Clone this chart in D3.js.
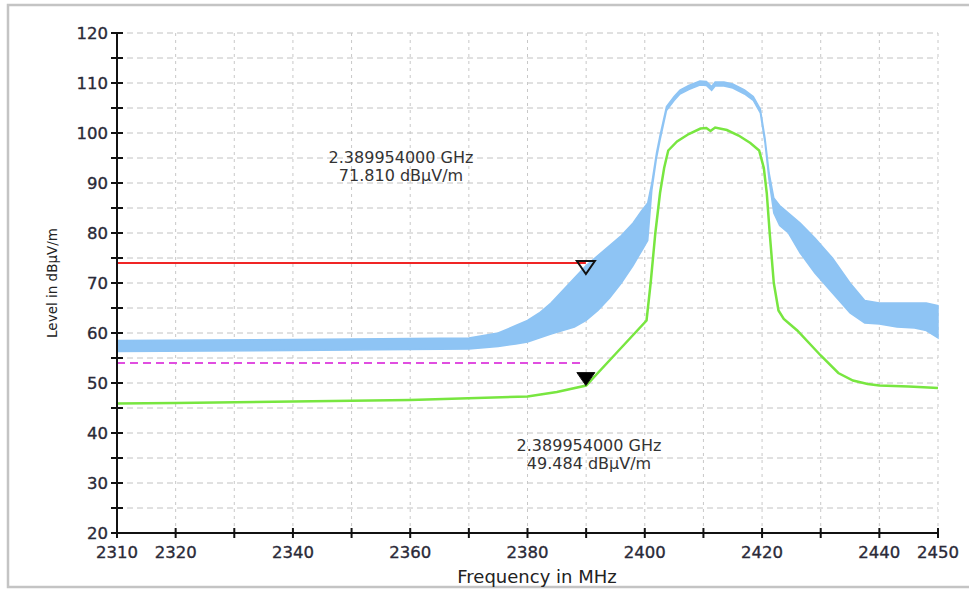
<!DOCTYPE html>
<html lang="en">
<head>
    <meta charset="UTF-8">
    <title>Radiated Emission - Band Edge</title>
    <script src="https://d3js.org/d3.v7.min.js"></script>
    <style>
        body {
            margin: 0;
            background: #fff;
            font-family: "DejaVu Sans", Verdana, sans-serif;
        }
        .tick-label {
            font-size: 16.5px;
            fill: #2a2a38;
            stroke: #2a2a38;
            stroke-width: 0.35px;
        }
        .note {
            font-size: 16px;
            fill: #333;
        }
    </style>
</head>
<body>

<svg width="969" height="590"></svg>

<script>
    // Peak trace (blue) - upper and lower edge of the noisy band
    const peakFreq = [2310, 2340, 2370, 2375, 2378, 2380, 2382, 2384, 2386, 2388, 2390, 2392, 2394, 2396,
        2398, 2399.5, 2400.5, 2401.2, 2402, 2402.6, 2403.7, 2405, 2406, 2407.5, 2409.4, 2410.5, 2411.4,
        2412, 2413.5, 2415, 2417, 2418.5, 2419.7, 2420.5, 2421.2, 2422, 2423, 2424.5, 2426.5, 2429,
        2432, 2435, 2437.5, 2440, 2443, 2446, 2448, 2450];
    const peakHigh = [58.5, 58.7, 59, 60, 61.5, 62.5, 64, 66, 68.5, 71, 73.5, 75.5, 77.5, 79.5,
        82, 84.5, 86, 90, 96, 99.5, 105.3, 107.3, 108.6, 109.5, 110.4, 110.3, 109.3,
        110.2, 110.2, 109.8, 108.6, 107.3, 104.8, 99, 92, 87, 85.5, 84, 82, 79,
        75, 70, 66.5, 66, 66, 66, 66, 65.5];
    const peakLow = [56.3, 56.5, 56.8, 57.3, 57.8, 58.2, 59, 59.8, 60.5, 61.2, 62.5, 64.5, 67, 70,
        73.5, 76.5, 78.5, 88.5, 95, 98.6, 104.5, 106.5, 107.8, 108.7, 109.6, 109.5, 108.5,
        109.4, 109.4, 109, 107.8, 106.5, 104, 98, 90.5, 84, 81.5, 80, 76, 72,
        68, 64, 62, 61.8, 61.2, 61, 60.5, 59];

    // Average trace (green)
    const avgFreq = [2310, 2320, 2340, 2360, 2380, 2385, 2390, 2395, 2400.3, 2401, 2401.8, 2402.6,
        2403.3, 2404, 2405.5, 2407.5, 2409.5, 2410.5, 2411.2, 2412, 2414, 2416, 2418, 2419.5,
        2420.3, 2420.8, 2421.3, 2422, 2422.8, 2423.7, 2426, 2430, 2433, 2435.5, 2438, 2440, 2445, 2450];
    const avgLevel = [45.9, 46.0, 46.3, 46.6, 47.3, 48.2, 49.5, 55.8, 62.5, 70, 80, 88,
        93, 96.5, 98.3, 99.8, 100.9, 101, 100.4, 101.1, 100.6, 99.5, 98, 96.5,
        93, 88, 80, 70, 64.5, 62.8, 60.5, 55.5, 52, 50.5, 49.8, 49.5, 49.3, 49.0];

    // Limit lines (peak and average) and markers
    const peakLimit = 74;
    const avgLimit = 54;
    const markerFreq = 2389.954;
    const markers = [
        { level: 71.81, filled: false, lines: ["2.389954000 GHz", "71.810 dBµV/m"] },
        { level: 49.484, filled: true, lines: ["2.389954000 GHz", "49.484 dBµV/m"] }
    ];

    // Axis ticks
    const xTickValues = d3.range(2310, 2451, 10);
    const xTickLabels = [2310, 2320, 2340, 2360, 2380, 2400, 2420, 2440, 2450];
    const yMajorTicks = d3.range(20, 121, 10);
    const yMinorTicks = d3.range(25, 120, 10);

    const svg = d3.select("svg");
    const margin = { top: 33, right: 31, bottom: 57, left: 117 };
    const width = 969 - margin.left - margin.right,
        height = 590 - margin.top - margin.bottom;

    // Light grey frame round the whole picture
    svg.append("rect")
        .attr("x", 8).attr("y", 5)
        .attr("width", 980).attr("height", 582)
        .attr("fill", "none")
        .attr("stroke", "#c4c4c4")
        .attr("stroke-width", 2.5);

    const g = svg.append("g").attr("transform", `translate(${margin.left},${margin.top})`);

    const x = d3.scaleLinear().domain([2310, 2450]).range([0, width]);
    const y = d3.scaleLinear().domain([20, 120]).range([height, 0]);

    // Dashed grid
    g.append("g").selectAll("line")
        .data(d3.range(25, 121, 5))
        .join("line")
        .attr("x1", 0).attr("x2", width)
        .attr("y1", d => y(d)).attr("y2", d => y(d))
        .attr("stroke", "#c2c2c2")
        .attr("stroke-dasharray", "6,4");

    g.append("g").selectAll("line")
        .data(xTickValues.slice(1))
        .join("line")
        .attr("x1", d => x(d)).attr("x2", d => x(d))
        .attr("y1", 0).attr("y2", height)
        .attr("stroke", "#c8c8c8")
        .attr("stroke-dasharray", "3,4");

    // Limit lines, drawn up to the marker frequency
    g.append("line")
        .attr("x1", 0).attr("x2", x(markerFreq))
        .attr("y1", y(peakLimit)).attr("y2", y(peakLimit))
        .attr("stroke", "#f02525")
        .attr("stroke-width", 2);

    g.append("line")
        .attr("x1", 0).attr("x2", x(markerFreq) - 3)
        .attr("y1", y(avgLimit)).attr("y2", y(avgLimit))
        .attr("stroke", "#e04ee0")
        .attr("stroke-width", 2)
        .attr("stroke-dasharray", "8,5");

    // Peak trace as a filled noise band
    const peakData = peakFreq.map((f, i) => ({ f, hi: peakHigh[i], lo: peakLow[i] }));
    g.append("path")
        .datum(peakData)
        .attr("fill", "#8ec4f4")
        .attr("stroke", "#8ec4f4")
        .attr("stroke-width", 1.5)
        .attr("d", d3.area()
            .x(d => x(d.f))
            .y0(d => y(d.lo))
            .y1(d => y(d.hi)));

    // Average trace
    g.append("path")
        .datum(avgFreq.map((f, i) => [f, avgLevel[i]]))
        .attr("fill", "none")
        .attr("stroke", "#78e640")
        .attr("stroke-width", 2.5)
        .attr("d", d3.line().x(d => x(d[0])).y(d => y(d[1])));

    // Marker triangles (tip on the measured point)
    markers.forEach(m => {
        const mx = x(markerFreq), my = y(m.level);
        g.append("path")
            .attr("d", `M${mx},${my} L${mx - 9},${my - 13} L${mx + 9},${my - 13} Z`)
            .attr("fill", m.filled ? "#000" : "none")
            .attr("stroke", "#111")
            .attr("stroke-width", m.filled ? 1 : 2);
    });

    // Marker readouts
    const notePos = [{ cx: 401, y: 163 }, { cx: 589, y: 451 }];
    markers.forEach((m, i) => {
        const t = svg.append("text")
            .attr("class", "note")
            .attr("text-anchor", "middle")
            .attr("x", notePos[i].cx)
            .attr("y", notePos[i].y);
        m.lines.forEach((s, k) => {
            t.append("tspan").attr("x", notePos[i].cx).attr("dy", k ? 18 : 0).text(s);
        });
    });

    // Axes: black lines with ticks crossing the axis
    g.append("line")
        .attr("x1", 0).attr("x2", 0).attr("y1", 0).attr("y2", height)
        .attr("stroke", "#111").attr("stroke-width", 2);
    g.append("line")
        .attr("x1", 0).attr("x2", width).attr("y1", height).attr("y2", height)
        .attr("stroke", "#111").attr("stroke-width", 2);

    g.append("g").selectAll("line")
        .data(yMajorTicks.concat(yMinorTicks))
        .join("line")
        .attr("x1", -6).attr("x2", 6)
        .attr("y1", d => y(d)).attr("y2", d => y(d))
        .attr("stroke", "#111").attr("stroke-width", 2);

    g.append("g").selectAll("line")
        .data(xTickValues)
        .join("line")
        .attr("x1", d => x(d)).attr("x2", d => x(d))
        .attr("y1", height - 5).attr("y2", height + 5)
        .attr("stroke", "#111").attr("stroke-width", 2);

    g.append("g").selectAll("text")
        .data(yMajorTicks)
        .join("text")
        .attr("class", "tick-label")
        .attr("text-anchor", "end")
        .attr("x", -9)
        .attr("y", d => y(d) + 6)
        .text(d => d);

    g.append("g").selectAll("text")
        .data(xTickLabels)
        .join("text")
        .attr("class", "tick-label")
        .attr("text-anchor", "middle")
        .attr("x", d => x(d))
        .attr("y", height + 25)
        .text(d => d);

    // Axis titles
    svg.append("text")
        .attr("text-anchor", "middle")
        .attr("x", 537).attr("y", 583)
        .style("font-size", "18px")
        .style("fill", "#222")
        .text("Frequency in MHz");

    svg.append("text")
        .attr("text-anchor", "middle")
        .attr("transform", "translate(57,283) rotate(-90)")
        .style("font-size", "13.5px")
        .style("fill", "#222")
        .text("Level in dBµV/m");
</script>

</body>
</html>
